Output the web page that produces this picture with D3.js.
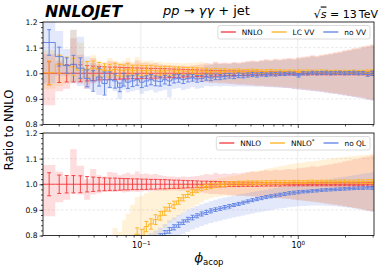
<!DOCTYPE html>
<html lang="en">
<head>
<meta charset="utf-8">
<title>Ratio to NNLO</title>
<script src="https://cdn.jsdelivr.net/npm/d3@7"></script>
<style>
  body { margin: 0; background: #fff; }
  text { font-family: "DejaVu Sans", sans-serif; }
</style>
</head>
<body>
<script>
// bin edges in phi_acop
var edges = [0.0238,0.0285,0.032,0.0355,0.039,0.0435,0.0475,0.052,0.0565,0.061,
  0.066,0.071,0.076,0.08,0.0856,0.0916,0.098,0.1049,0.1122,0.1201,
  0.1285,0.1375,0.1471,0.1574,0.1684,0.1802,0.1928,0.2063,0.2207,0.2362,
  0.2527,0.2704,0.2893,0.3096,0.3312,0.3544,0.3792,0.4058,0.4342,0.4646,
  0.4971,0.5319,0.5691,0.609,0.6516,0.6972,0.746,0.7982,0.8541,0.9139,
  0.9779,1.0463,1.1196,1.1979,1.2818,1.3715,1.4675,1.5703,1.6802,1.7978,
  1.9236,2.0583,2.2024,2.3565,2.5215,2.698,2.8868,3.06];

// NNLO (reference): stat error and scale band
var nnloErr = [0.045,0.036,0.034,0.034,0.033,0.030,0.028,0.026,0.025,0.024,
  0.024,0.023,0.022,0.022,0.021,0.021,0.020,0.020,0.019,0.019,
  0.018,0.018,0.017,0.016,0.016,0.015,0.014,0.014,0.013,0.012,
  0.012,0.011,0.011,0.010,0.010,0.009,0.009,0.009,0.008,0.008,
  0.008,0.008,0.007,0.007,0.007,0.007,0.007,0.006,0.006,0.006,
  0.006,0.006,0.006,0.006,0.006,0.006,0.006,0.006,0.006,0.006,
  0.006,0.006,0.006,0.006,0.006,0.007,0.008];
var nnloLo = [0.875,0.930,0.940,0.965,0.960,0.940,0.960,0.965,0.970,0.970,
  0.970,0.972,0.968,0.970,0.972,0.970,0.972,0.974,0.972,0.974,
  0.975,0.975,0.976,0.976,0.975,0.975,0.974,0.972,0.970,0.968,
  0.965,0.962,0.962,0.960,0.960,0.958,0.957,0.955,0.955,0.953,
  0.952,0.950,0.950,0.948,0.947,0.946,0.945,0.943,0.942,0.940,
  0.938,0.936,0.934,0.932,0.930,0.928,0.925,0.922,0.920,0.917,
  0.914,0.911,0.908,0.905,0.902,0.898,0.895];
var nnloHi = [1.075,1.050,1.030,1.137,1.072,1.020,1.060,1.035,1.030,1.048,
  1.045,1.035,1.040,1.045,1.038,1.050,1.040,1.042,1.038,1.040,
  1.035,1.032,1.030,1.030,1.028,1.030,1.028,1.030,1.032,1.035,
  1.040,1.038,1.045,1.040,1.042,1.040,1.044,1.042,1.045,1.048,
  1.050,1.048,1.052,1.055,1.053,1.057,1.055,1.058,1.060,1.058,
  1.062,1.064,1.066,1.070,1.068,1.072,1.075,1.078,1.082,1.085,
  1.090,1.093,1.098,1.100,1.105,1.108,1.112];

// LC VV
var lcvvC = [1.002,1.035,1.030,1.025,1.012,1.015,1.020,1.015,1.012,1.010,
  1.015,1.012,1.010,1.015,1.010,1.012,1.010,1.010,1.012,1.010,
  1.008,1.010,1.010,1.008,1.010,1.008,1.008,1.010,1.008,1.008,
  1.008,1.006,1.008,1.007,1.008,1.006,1.007,1.008,1.006,1.007,
  1.008,1.007,1.006,1.007,1.008,1.006,1.007,1.006,1.007,1.006,
  1.007,1.006,1.007,1.006,1.006,1.007,1.006,1.005,1.006,1.005,
  1.006,1.005,1.006,1.005,1.005,1.006,1.005];
var lcvvErr = [0.046,0.035,0.033,0.033,0.032,0.031,0.028,0.027,0.025,0.025,
  0.024,0.023,0.022,0.022,0.021,0.020,0.020,0.020,0.019,0.018,
  0.018,0.017,0.017,0.016,0.015,0.015,0.014,0.013,0.013,0.012,
  0.012,0.011,0.011,0.010,0.010,0.009,0.009,0.009,0.008,0.008,
  0.008,0.008,0.007,0.007,0.007,0.007,0.007,0.006,0.006,0.006,
  0.006,0.006,0.006,0.006,0.006,0.006,0.006,0.006,0.006,0.006,
  0.006,0.006,0.006,0.006,0.006,0.007,0.008];
var lcvvLo = [0.940,0.950,0.960,0.965,0.970,0.960,0.975,0.975,0.980,0.980,
  0.980,0.982,0.980,0.985,0.982,0.985,0.985,0.985,0.986,0.985,
  0.985,0.985,0.986,0.985,0.985,0.984,0.984,0.982,0.980,0.978,
  0.969,0.966,0.966,0.964,0.964,0.962,0.961,0.959,0.959,0.957,
  0.956,0.954,0.954,0.952,0.951,0.950,0.949,0.947,0.946,0.944,
  0.942,0.940,0.938,0.936,0.934,0.932,0.929,0.926,0.924,0.921,
  0.918,0.915,0.912,0.909,0.906,0.902,0.899];
var lcvvHi = [1.090,1.075,1.055,1.170,1.120,1.050,1.070,1.050,1.045,1.060,
  1.050,1.045,1.050,1.060,1.045,1.063,1.050,1.048,1.050,1.045,
  1.045,1.040,1.042,1.040,1.040,1.038,1.040,1.040,1.042,1.045,
  1.037,1.035,1.042,1.037,1.039,1.037,1.041,1.039,1.042,1.045,
  1.047,1.045,1.049,1.052,1.050,1.054,1.052,1.055,1.057,1.055,
  1.059,1.061,1.063,1.067,1.065,1.069,1.072,1.075,1.079,1.082,
  1.087,1.090,1.095,1.097,1.102,1.105,1.109];

// no VV
var novvC = [1.120,1.065,1.030,1.035,1.020,0.980,0.970,0.985,0.960,0.975,
  0.970,0.945,0.975,0.965,0.970,0.975,0.965,0.970,0.975,0.970,
  0.968,0.975,0.970,0.978,0.980,0.975,0.980,0.982,0.978,0.980,
  0.985,0.982,0.986,0.985,0.988,0.990,0.988,0.992,0.990,0.993,
  0.995,0.993,0.996,0.994,0.997,0.996,0.998,0.997,0.999,0.998,
  0.992,1.000,0.999,1.002,1.000,1.001,1.002,1.000,1.001,1.002,
  1.000,1.001,1.002,1.000,1.001,0.995,1.000];
var novvErr = [0.050,0.037,0.030,0.035,0.040,0.033,0.040,0.035,0.045,0.030,
  0.028,0.017,0.025,0.024,0.022,0.022,0.021,0.020,0.020,0.019,
  0.018,0.017,0.017,0.016,0.015,0.015,0.014,0.013,0.013,0.012,
  0.012,0.011,0.011,0.010,0.010,0.009,0.009,0.009,0.008,0.008,
  0.008,0.008,0.007,0.007,0.007,0.007,0.007,0.006,0.006,0.006,
  0.007,0.006,0.006,0.006,0.006,0.006,0.006,0.006,0.006,0.006,
  0.006,0.006,0.006,0.006,0.006,0.007,0.008];
var novvLo = [0.960,0.990,0.990,0.960,0.950,0.940,0.935,0.915,0.920,0.940,
  0.930,0.900,0.935,0.925,0.930,0.935,0.920,0.930,0.935,0.925,
  0.930,0.935,0.905,0.940,0.942,0.935,0.940,0.945,0.940,0.942,
  0.950,0.948,0.950,0.948,0.950,0.950,0.948,0.949,0.948,0.948,
  0.948,0.947,0.947,0.946,0.945,0.944,0.943,0.942,0.941,0.939,
  0.937,0.935,0.933,0.931,0.929,0.927,0.924,0.921,0.919,0.916,
  0.913,0.910,0.907,0.904,0.901,0.897,0.894];
var novvHi = [1.250,1.165,1.095,1.170,1.142,1.065,1.040,1.030,1.020,1.010,
  1.000,0.990,1.000,0.995,0.995,1.000,0.990,0.995,1.000,0.995,
  0.995,1.000,0.995,1.000,1.002,1.000,1.002,1.005,1.000,1.005,
  1.030,1.033,1.038,1.036,1.037,1.036,1.040,1.038,1.040,1.043,
  1.045,1.044,1.047,1.050,1.048,1.052,1.050,1.053,1.055,1.053,
  1.057,1.059,1.061,1.065,1.063,1.067,1.070,1.073,1.077,1.080,
  1.085,1.088,1.092,1.095,1.100,1.103,1.107];

// NNLO*
var nstarC = [0.500,0.520,0.550,0.570,0.600,0.620,0.640,0.660,0.680,0.700,
  0.720,0.730,0.750,0.760,0.770,0.805,0.800,0.835,0.845,0.862,
  0.877,0.895,0.910,0.920,0.935,0.947,0.960,0.968,0.978,0.985,
  0.990,0.993,0.996,0.998,1.000,1.002,1.002,1.004,1.004,1.005,
  1.005,1.006,1.006,1.007,1.007,1.008,1.007,1.008,1.008,1.009,
  1.009,1.008,1.009,1.010,1.009,1.010,1.010,1.009,1.010,1.010,
  1.011,1.010,1.010,1.011,1.010,1.011,1.010];
var nstarErr = [0.050,0.045,0.040,0.040,0.040,0.035,0.035,0.032,0.030,0.030,
  0.030,0.028,0.028,0.026,0.025,0.025,0.024,0.020,0.020,0.019,
  0.017,0.016,0.015,0.014,0.013,0.012,0.012,0.011,0.011,0.010,
  0.010,0.010,0.009,0.009,0.009,0.008,0.008,0.008,0.008,0.008,
  0.008,0.007,0.007,0.007,0.007,0.007,0.007,0.007,0.006,0.006,
  0.006,0.006,0.006,0.006,0.006,0.006,0.006,0.006,0.006,0.006,
  0.006,0.006,0.006,0.007,0.007,0.007,0.008];
var nstarLo = [0.450,0.470,0.500,0.520,0.550,0.570,0.590,0.610,0.630,0.650,
  0.670,0.680,0.700,0.710,0.720,0.750,0.760,0.780,0.790,0.800,
  0.810,0.830,0.850,0.860,0.875,0.890,0.900,0.910,0.920,0.930,
  0.940,0.945,0.950,0.952,0.955,0.955,0.956,0.955,0.955,0.955,
  0.954,0.953,0.952,0.950,0.949,0.948,0.946,0.945,0.943,0.941,
  0.940,0.937,0.935,0.933,0.930,0.928,0.925,0.922,0.920,0.917,
  0.914,0.911,0.908,0.905,0.902,0.898,0.895];
var nstarHi = [0.700,0.720,0.740,0.750,0.760,0.770,0.780,0.790,0.795,0.800,
  0.830,0.815,0.860,0.885,0.920,0.950,0.955,0.965,0.970,0.975,
  0.980,0.985,0.990,0.995,0.998,1.000,1.003,1.005,1.008,1.010,
  1.015,1.018,1.020,1.024,1.027,1.030,1.033,1.036,1.040,1.045,
  1.050,1.053,1.056,1.060,1.063,1.066,1.070,1.073,1.077,1.080,
  1.083,1.085,1.088,1.090,1.092,1.095,1.097,1.100,1.102,1.104,
  1.106,1.108,1.110,1.112,1.113,1.115,1.117];

// no QL
var noqlC = [0.420,0.450,0.470,0.490,0.510,0.530,0.550,0.570,0.590,0.610,
  0.630,0.650,0.670,0.690,0.710,0.730,0.745,0.760,0.770,0.785,
  0.795,0.808,0.820,0.832,0.842,0.852,0.862,0.870,0.877,0.884,
  0.890,0.896,0.901,0.905,0.910,0.914,0.919,0.923,0.928,0.933,
  0.938,0.942,0.946,0.950,0.953,0.956,0.959,0.962,0.965,0.967,
  0.969,0.971,0.972,0.974,0.975,0.977,0.978,0.979,0.980,0.981,
  0.982,0.983,0.984,0.985,0.985,0.986,0.986];
var noqlErr = [0.050,0.040,0.035,0.035,0.033,0.030,0.030,0.028,0.026,0.025,
  0.024,0.023,0.022,0.021,0.020,0.019,0.018,0.017,0.016,0.015,
  0.012,0.011,0.011,0.010,0.010,0.009,0.009,0.009,0.008,0.008,
  0.008,0.008,0.007,0.007,0.007,0.007,0.006,0.006,0.006,0.006,
  0.006,0.006,0.006,0.006,0.006,0.006,0.006,0.006,0.006,0.006,
  0.006,0.005,0.005,0.005,0.005,0.005,0.005,0.005,0.005,0.005,
  0.005,0.005,0.005,0.005,0.005,0.005,0.006];
var noqlLo = [0.340,0.370,0.390,0.410,0.430,0.450,0.470,0.490,0.510,0.530,
  0.550,0.570,0.590,0.610,0.630,0.650,0.665,0.680,0.690,0.705,
  0.750,0.765,0.775,0.787,0.797,0.806,0.815,0.823,0.830,0.837,
  0.843,0.849,0.854,0.858,0.862,0.866,0.870,0.874,0.878,0.882,
  0.886,0.890,0.893,0.896,0.899,0.902,0.905,0.907,0.910,0.912,
  0.914,0.915,0.916,0.917,0.917,0.917,0.916,0.915,0.914,0.912,
  0.910,0.908,0.905,0.902,0.899,0.896,0.893];
var noqlHi = [0.500,0.530,0.550,0.570,0.590,0.610,0.630,0.650,0.670,0.690,
  0.700,0.710,0.720,0.730,0.740,0.760,0.780,0.800,0.810,0.820,
  0.830,0.845,0.860,0.870,0.880,0.890,0.900,0.908,0.915,0.922,
  0.928,0.934,0.940,0.944,0.948,0.952,0.956,0.960,0.963,0.966,
  0.970,0.973,0.976,0.979,0.982,0.985,0.988,0.991,0.994,0.996,
  0.999,1.002,1.005,1.008,1.011,1.014,1.017,1.020,1.023,1.026,
  1.029,1.032,1.035,1.038,1.041,1.044,1.047];

var yTicks = [0.8, 0.9, 1.0, 1.1, 1.2];
var xTicks = [0.1, 1];
var xTickExp = ["\u22121", "0"];

var red = "#f5373a", orange = "#ffb11b", blue = "#5b7fe3";

var width = 382, height = 269;
var left = 43, right = 374;
var panels = [{top: 22, bottom: 124.5}, {top: 133, bottom: 235.5}];

function bins(c, err, lo, hi) {
    return d3.range(edges.length - 1).map(function(i) {
        return {x0: edges[i], x1: edges[i + 1], c: c ? c[i] : 1, err: err[i], lo: lo[i], hi: hi[i]};
    });
}

var nnlo = {label: "NNLO", color: red, data: bins(null, nnloErr, nnloLo, nnloHi)};
panels[0].series = [nnlo,
    {label: "LC VV", color: orange, data: bins(lcvvC, lcvvErr, lcvvLo, lcvvHi)},
    {label: "no VV", color: blue, data: bins(novvC, novvErr, novvLo, novvHi)}];
panels[1].series = [nnlo,
    {label: "NNLO", sup: "*", color: orange, data: bins(nstarC, nstarErr, nstarLo, nstarHi)},
    {label: "no QL", color: blue, data: bins(noqlC, noqlErr, noqlLo, noqlHi)}];

var svg = d3.select("body").append("svg")
        .attr("width", width)
        .attr("height", height);

var x = d3.scaleLog()
        .domain([edges[0], edges[edges.length - 1]])
        .range([left, right]);

var minorX = [0.03,0.04,0.05,0.06,0.07,0.08,0.09,0.2,0.3,0.4,0.5,0.6,0.7,0.8,0.9,2,3];
var minorY = d3.range(0, 21).map(function(k) { return 0.8 + k * 0.02; });

function steps(data) {
    var last = data[data.length - 1];
    return data.map(function(d) { return {x: d.x0, d: d}; })
            .concat([{x: last.x1, d: last}]);
}

panels.forEach(function(p, k) {
    var y = d3.scaleLinear().domain([0.8, 1.2]).range([p.bottom, p.top]);
    var g = svg.append("g");

    svg.append("clipPath").attr("id", "clip" + k)
        .append("rect")
        .attr("x", left).attr("y", p.top)
        .attr("width", right - left).attr("height", p.bottom - p.top);

    // grid
    g.selectAll(".hgrid").data([0.9, 1.0, 1.1]).enter().append("line")
        .attr("x1", left).attr("x2", right)
        .attr("y1", function(d) { return y(d); })
        .attr("y2", function(d) { return y(d); })
        .attr("stroke", "#d9d9d9").attr("stroke-width", 0.6)
        .attr("stroke-dasharray", "2.5,2");
    g.selectAll(".vgrid").data(xTicks).enter().append("line")
        .attr("y1", p.top).attr("y2", p.bottom)
        .attr("x1", function(d) { return x(d); })
        .attr("x2", function(d) { return x(d); })
        .attr("stroke", "#e2e2e2").attr("stroke-width", 0.7);

    var plot = g.append("g").attr("clip-path", "url(#clip" + k + ")");

    var area = d3.area().curve(d3.curveStepAfter)
            .x(function(s) { return x(s.x); })
            .y0(function(s) { return y(s.d.lo); })
            .y1(function(s) { return y(s.d.hi); });
    var line = d3.line().curve(d3.curveStepAfter)
            .x(function(s) { return x(s.x); })
            .y(function(s) { return y(s.d.c); });

    p.series.forEach(function(s) {
        plot.append("path")
            .attr("d", area(steps(s.data)))
            .attr("fill", s.color)
            .attr("fill-opacity", 0.17);
    });

    p.series.forEach(function(s) {
        plot.append("path")
            .attr("d", line(steps(s.data)))
            .attr("fill", "none")
            .attr("stroke", s.color)
            .attr("stroke-width", 0.9);

        var eb = plot.append("g").attr("stroke", s.color).attr("stroke-width", 0.9);
        s.data.forEach(function(d) {
            var xc = x(Math.sqrt(d.x0 * d.x1));
            var y0 = y(d.c - d.err), y1 = y(d.c + d.err);
            eb.append("line").attr("x1", xc).attr("x2", xc).attr("y1", y0).attr("y2", y1);
            eb.append("line").attr("x1", xc - 2).attr("x2", xc + 2).attr("y1", y0).attr("y2", y0);
            eb.append("line").attr("x1", xc - 2).attr("x2", xc + 2).attr("y1", y1).attr("y2", y1);
        });
    });

    // axes
    g.append("g").attr("transform", "translate(" + left + ",0)")
        .call(d3.axisLeft(y).tickValues(yTicks).tickFormat(d3.format(".1f")).tickSize(3.5).tickPadding(2));
    g.append("g").attr("transform", "translate(" + left + ",0)")
        .call(d3.axisLeft(y).tickValues(minorY).tickFormat("").tickSize(2));
    var xAxis = g.append("g").attr("transform", "translate(0," + p.bottom + ")")
        .call(d3.axisBottom(x).tickValues(xTicks).tickFormat("").tickSize(3.5));
    g.append("g").attr("transform", "translate(0," + p.bottom + ")")
        .call(d3.axisBottom(x).tickValues(minorX).tickFormat("").tickSize(2));
    g.selectAll(".domain").remove();
    g.selectAll(".tick line").attr("stroke", "#000").attr("stroke-width", 0.7);
    g.selectAll(".tick text").attr("font-size", "7.6px").attr("fill", "#000")
        .attr("font-family", "DejaVu Sans");

    if (k === 1) {
        xAxis.selectAll(".tick").each(function(d, i) {
            var t = d3.select(this).append("text")
                .attr("y", 12.5).attr("text-anchor", "middle")
                .attr("font-size", "8px").attr("fill", "#000");
            t.append("tspan").text("10");
            t.append("tspan").attr("font-size", "5.6px").attr("dy", "-3.3").text(xTickExp[i]);
        });
    }

    g.append("rect")
        .attr("x", left).attr("y", p.top)
        .attr("width", right - left).attr("height", p.bottom - p.top)
        .attr("fill", "none").attr("stroke", "#000").attr("stroke-width", 0.8);

    // legend, anchored at upper right
    var lg = g.append("g");
    var box = lg.append("rect");
    var ly = p.top + 10;
    var cursor = 0, items = [];
    p.series.forEach(function(s) {
        var t = lg.append("text").attr("y", ly).attr("dy", "0.35em")
            .attr("font-size", "7.4px").attr("fill", "#000").text(s.label);
        if (s.sup) t.append("tspan").attr("font-size", "5.5px").attr("dy", "-0.45em").text(s.sup);
        var w = t.node().getComputedTextLength();
        items.push({s: s, t: t, x: cursor});
        cursor += 21 + w + 9;
    });
    var total = cursor - 9 + 3 + 4;
    var bx = right - 4 - total;
    items.forEach(function(it) {
        var x0 = bx + 3 + it.x;
        lg.append("line").attr("x1", x0).attr("x2", x0 + 15)
            .attr("y1", ly).attr("y2", ly)
            .attr("stroke", it.s.color).attr("stroke-width", 1.3);
        it.t.attr("x", x0 + 21);
    });
    box.attr("x", bx).attr("y", ly - 6.5).attr("width", total).attr("height", 13.5)
        .attr("rx", 2).attr("fill", "#fff").attr("fill-opacity", 0.85)
        .attr("stroke", "#cccccc").attr("stroke-width", 0.7);
});

// title row
svg.append("text")
    .attr("x", 45).attr("y", 17)
    .attr("font-size", "15px").attr("font-weight", "bold").attr("font-style", "italic")
    .attr("textLength", 77).attr("lengthAdjust", "spacingAndGlyphs")
    .text("NNLOJET");

var proc = svg.append("text")
    .attr("x", 163).attr("y", 14.5)
    .attr("font-family", "Liberation Serif, DejaVu Serif, serif")
    .attr("font-size", "13px");
proc.append("tspan").attr("font-style", "italic").text("pp");
proc.append("tspan").text(" \u2192 ");
proc.append("tspan").attr("font-style", "italic").text("\u03b3\u03b3");
proc.append("tspan").text(" + jet");

var roots = svg.append("text")
    .attr("x", 378).attr("y", 17.5).attr("text-anchor", "end")
    .attr("font-family", "Liberation Serif, DejaVu Serif, serif")
    .attr("font-size", "11px");
roots.append("tspan").text("\u221a");
roots.append("tspan").attr("font-style", "italic").attr("text-decoration", "overline").text("s");
roots.append("tspan").text(" = 13\u2009TeV");

// axis labels
svg.append("text")
    .attr("transform", "translate(13,130) rotate(-90)")
    .attr("text-anchor", "middle")
    .attr("font-size", "11.5px")
    .text("Ratio to NNLO");

var xl = svg.append("text")
    .attr("x", 209).attr("y", 262)
    .attr("text-anchor", "middle");
xl.append("tspan").attr("font-family", "DejaVu Serif, serif").attr("font-style", "italic")
    .attr("font-size", "12.5px").text("\u03d5");
xl.append("tspan").attr("font-size", "8.5px").attr("dy", 2.5).text("acop");
</script>
</body>
</html>
